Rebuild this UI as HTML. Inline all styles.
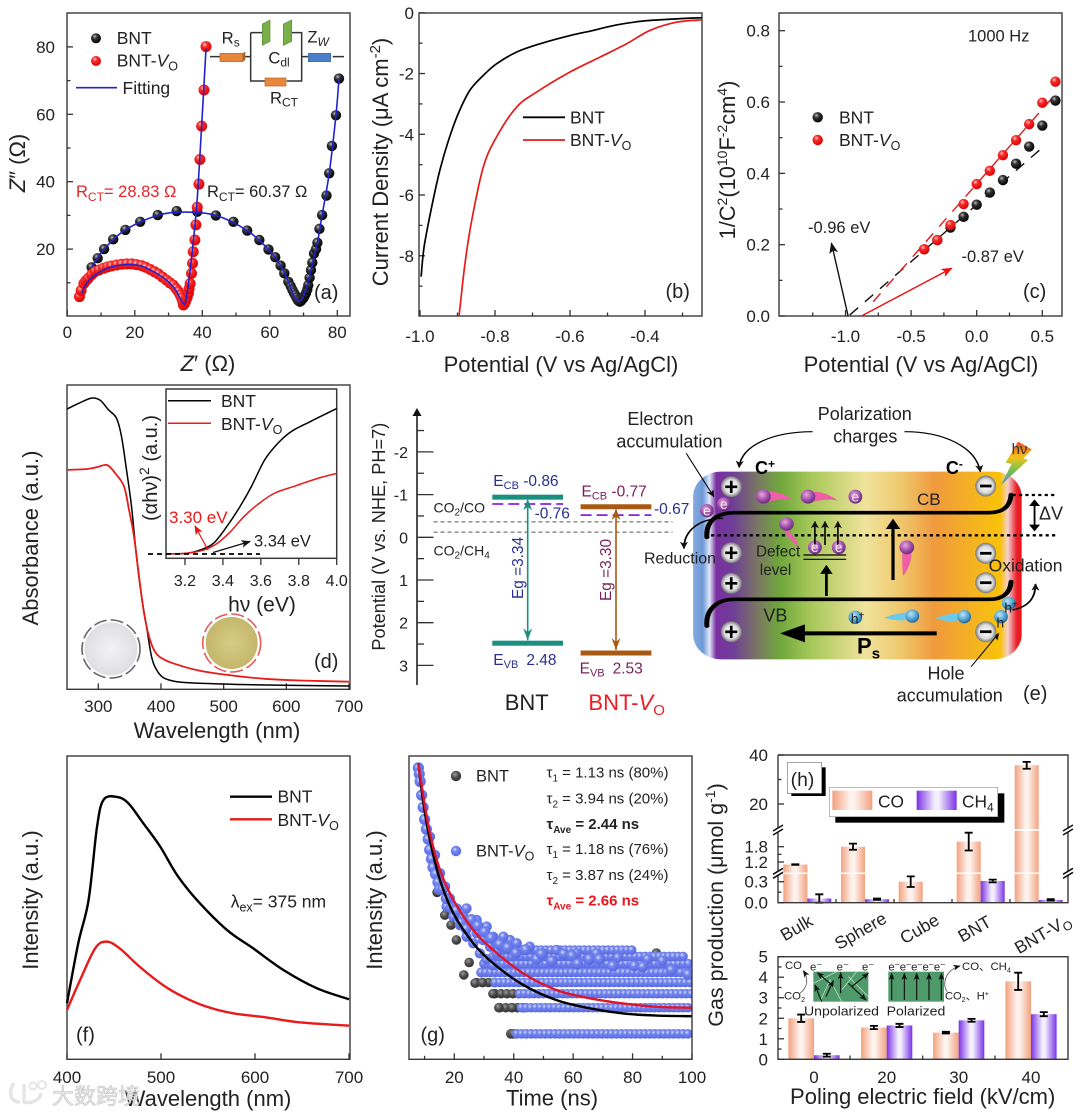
<!DOCTYPE html>
<html>
<head>
<meta charset="utf-8">
<title>BNT and BNT-VO characterisation figure</title>
<style>
html,body{margin:0;padding:0;background:#fff;}
svg{display:block;filter:blur(0.35px);}
text{font-family:"Liberation Sans","Noto Sans CJK SC",sans-serif;fill:#222;}
</style>
</head>
<body>
<svg id="figure" xmlns="http://www.w3.org/2000/svg" width="1080" height="1113" viewBox="0 0 1080 1113">
<defs>
<radialGradient id="ballBlack" cx="38%" cy="32%" r="70%"><stop offset="0" stop-color="#bbb"/><stop offset=".35" stop-color="#333"/><stop offset="1" stop-color="#000"/></radialGradient>
<radialGradient id="ballRed" cx="38%" cy="32%" r="70%"><stop offset="0" stop-color="#ffc0c0"/><stop offset=".35" stop-color="#f42a2a"/><stop offset="1" stop-color="#e00000"/></radialGradient>
<radialGradient id="ballBlue" cx="40%" cy="35%" r="65%"><stop offset="0" stop-color="#d8def8"/><stop offset=".35" stop-color="#7486ee"/><stop offset="1" stop-color="#5668e2"/></radialGradient>
<radialGradient id="ballGrey" cx="40%" cy="35%" r="70%"><stop offset="0" stop-color="#999"/><stop offset=".5" stop-color="#4c4c4c"/><stop offset="1" stop-color="#2e2e2e"/></radialGradient>
<linearGradient id="barCO"><stop offset="0" stop-color="#f3a17f"/><stop offset=".45" stop-color="#fdf3ee"/><stop offset=".55" stop-color="#fdf3ee"/><stop offset="1" stop-color="#f3a17f"/></linearGradient>
<linearGradient id="barCH4"><stop offset="0" stop-color="#7a32e6"/><stop offset=".45" stop-color="#f4effd"/><stop offset=".55" stop-color="#f4effd"/><stop offset="1" stop-color="#7a32e6"/></linearGradient>
<linearGradient id="bandGrad">
<stop offset="0" stop-color="#85a9de"/><stop offset=".03" stop-color="#6f9ad8"/><stop offset=".05" stop-color="#dfe8f7"/><stop offset=".07" stop-color="#7a2fa0"/><stop offset=".12" stop-color="#6f3d98"/><stop offset=".2" stop-color="#7a7a60"/><stop offset=".265" stop-color="#6fa83c"/><stop offset=".36" stop-color="#a8c85a"/><stop offset=".525" stop-color="#f0e39c"/><stop offset=".636" stop-color="#efc76c"/><stop offset=".734" stop-color="#f09a3e"/><stop offset=".874" stop-color="#f6b71c"/><stop offset=".935" stop-color="#f9c208"/><stop offset=".958" stop-color="#f4d0d0"/><stop offset=".985" stop-color="#ea2028"/><stop offset="1" stop-color="#e8141e"/>
</linearGradient>
<radialGradient id="chargeBall" cx="50%" cy="50%" r="55%"><stop offset="0" stop-color="#fff"/><stop offset=".6" stop-color="#ddd"/><stop offset="1" stop-color="#555"/></radialGradient>
<radialGradient id="electronBall" cx="40%" cy="35%" r="70%"><stop offset="0" stop-color="#e8a6dc"/><stop offset=".6" stop-color="#9b4aa6"/><stop offset="1" stop-color="#5a2a70"/></radialGradient>
<radialGradient id="holeBall" cx="40%" cy="35%" r="70%"><stop offset="0" stop-color="#bfe6f8"/><stop offset=".6" stop-color="#4aa0d0"/><stop offset="1" stop-color="#1e5a88"/></radialGradient>
<linearGradient id="boltGrad" x1="0" y1="0" x2="0" y2="1"><stop offset="0" stop-color="#e8461c"/><stop offset=".35" stop-color="#f6c21c"/><stop offset=".65" stop-color="#7fc04a"/><stop offset="1" stop-color="#4a90d8"/></linearGradient>
<radialGradient id="powderWhite"><stop offset="0" stop-color="#f3f3f5"/><stop offset="1" stop-color="#dfdfe3"/></radialGradient>
<radialGradient id="powderYellow"><stop offset="0" stop-color="#d8cc84"/><stop offset="1" stop-color="#c4b76c"/></radialGradient>
<marker id="arrowBlack" viewBox="0 0 10 10" refX="9" refY="5" markerWidth="8" markerHeight="8" orient="auto"><path d="M0 1 L10 5 L0 9 L2.5 5 Z" fill="#111"/></marker>
<marker id="arrowRed" viewBox="0 0 10 10" refX="9" refY="5" markerWidth="8" markerHeight="8" orient="auto"><path d="M0 1 L10 5 L0 9 L2.5 5 Z" fill="#e11"/></marker>
<marker id="arrowThick" viewBox="0 0 10 10" refX="8" refY="5" markerWidth="4.5" markerHeight="4.5" orient="auto"><path d="M0 0 L10 5 L0 10 Z" fill="#000"/></marker>
<marker id="arrowThin" markerUnits="userSpaceOnUse" viewBox="0 0 10 10" refX="9" refY="5" markerWidth="22" markerHeight="22" orient="auto"><path d="M0 1 L10 5 L0 9 L2.5 5 Z" fill="#111"/></marker>
<marker id="arrowTeal" viewBox="0 0 10 10" refX="9" refY="5" markerWidth="7" markerHeight="7" orient="auto"><path d="M0 1 L10 5 L0 9 L3 5 Z" fill="#1a8f80"/></marker>
<marker id="arrowBrown" viewBox="0 0 10 10" refX="9" refY="5" markerWidth="7" markerHeight="7" orient="auto"><path d="M0 1 L10 5 L0 9 L3 5 Z" fill="#a85a12"/></marker>
<clipPath id="clipG"><rect x="409" y="756" width="283" height="303"/></clipPath>
<clipPath id="clipB"><rect x="419" y="13" width="283" height="303"/></clipPath>
</defs>

<!-- Panel a -->
<g id="panel-a"></g>
<g font-size="17.5">
<text x="208" y="371" font-size="22" text-anchor="middle"><tspan font-style="italic">Z</tspan>′ (Ω)</text>
<text transform="translate(25,163) rotate(-90)" font-size="22" text-anchor="middle"><tspan font-style="italic">Z</tspan>″ (Ω)</text>
<text x="116.7" y="44">BNT</text>
<text x="116.7" y="66.7">BNT-<tspan font-style="italic">V</tspan><tspan font-size="12.5" dy="4">O</tspan></text>
<line x1="76" y1="87.7" x2="117" y2="87.7" stroke="#2222cc" stroke-width="1.6"/>
<text x="122.5" y="94">Fitting</text>
<text x="76" y="197" font-size="16.5" style="fill:#e8262a">R<tspan font-size="12" dy="4">CT</tspan><tspan dy="-4">= 28.83 Ω</tspan></text>
<text x="207" y="197" font-size="16.5">R<tspan font-size="12" dy="4">CT</tspan><tspan dy="-4">= 60.37 Ω</tspan></text>
<text x="314" y="299" font-size="20">(a)</text>
</g>
<g transform="scale(.33333)" stroke="#333" fill="none">
<path stroke-width="4.5" d="M630 170H660M735 170H752M752 98V243H795M860 243H905V98H875M790 98H752M905 170H925M998 170H1032"/>
<path d="M660 160H728V185H660Z" fill="#e8873c" stroke="#b86a2c" stroke-width="2"/>
<path d="M728 160L736 154V180L728 185Z" fill="#a8682c" stroke="none"/>
<path d="M787 72L810 60V124L787 136Z" fill="#7ab04a" stroke="#5a8a34" stroke-width="2"/>
<path d="M850 72L875 60V124L850 136Z" fill="#7ab04a" stroke="#5a8a34" stroke-width="2"/>
<path d="M795 234H858V258H795Z" fill="#e8873c" stroke="#b86a2c" stroke-width="2"/>
<path d="M925 160H992V185H925Z" fill="#4a80c8" stroke="#3a68a8" stroke-width="2"/>
<g stroke="none" font-size="50">
<text x="665" y="130">R<tspan font-size="36" dy="10">s</tspan></text>
<text x="805" y="190">C<tspan font-size="36" dy="10">dl</tspan></text>
<text x="922" y="128">Z<tspan font-size="36" dy="10" font-style="italic">W</tspan></text>
<text x="810" y="310">R<tspan font-size="36" dy="10">CT</tspan></text>
</g>
</g>

<!-- Panel b -->
<g id="panel-b"></g>
<g font-size="17.5">
<text x="561" y="372" font-size="22" text-anchor="middle">Potential (V vs Ag/AgCl)</text>
<text transform="translate(388,162) rotate(-90)" font-size="22" text-anchor="middle">Current Density (μA cm<tspan font-size="15" dy="-8">-2</tspan><tspan dy="8">)</tspan></text>
<line x1="523" y1="117.3" x2="565" y2="117.3" stroke="#000" stroke-width="1.8"/>
<line x1="523" y1="140" x2="565" y2="140" stroke="#e81a1a" stroke-width="1.8"/>
<text x="570" y="123.3">BNT</text>
<text x="570" y="146">BNT-<tspan font-style="italic">V</tspan><tspan font-size="12.5" dy="4">O</tspan></text>
<text x="665.5" y="298" font-size="20">(b)</text>
</g>

<!-- Panel c -->
<g id="panel-c"></g>
<g font-size="17.5">
<text x="921" y="372" font-size="22" text-anchor="middle">Potential (V vs Ag/AgCl)</text>
<text transform="translate(735,160) rotate(-90)" font-size="21.8" text-anchor="middle">1/C<tspan font-size="14" dy="-8">2</tspan><tspan dy="8">(10</tspan><tspan font-size="14" dy="-8">10</tspan><tspan dy="8">F</tspan><tspan font-size="14" dy="-8">-2</tspan><tspan dy="8">cm</tspan><tspan font-size="14" dy="-8">4</tspan><tspan dy="8">)</tspan></text>
<text x="839" y="123.3">BNT</text>
<text x="839" y="146">BNT-<tspan font-style="italic">V</tspan><tspan font-size="12.5" dy="4">O</tspan></text>
<text x="968" y="41.5" font-size="16.5">1000 Hz</text>
<text x="808" y="233" font-size="16.5">-0.96 eV</text>
<text x="961.5" y="262" font-size="16.5">-0.87 eV</text>
<text x="1023" y="298" font-size="20">(c)</text>
</g>

<!-- Panel d -->
<g id="panel-d"></g>
<g font-size="17.5">
<text x="217" y="738" font-size="22" text-anchor="middle">Wavelength (nm)</text>
<text transform="translate(38,538) rotate(-90)" font-size="22" text-anchor="middle">Absorbance (a.u.)</text>
<text x="262" y="611.7" font-size="21" text-anchor="middle">hν (eV)</text>
<text transform="translate(157,468) rotate(-90)" font-size="20" text-anchor="middle">(αhν)<tspan font-size="14" dy="-8">2</tspan><tspan dy="8"> (a.u.)</tspan></text>
<line x1="168" y1="400.7" x2="211" y2="400.7" stroke="#000" stroke-width="1.5"/>
<line x1="168" y1="423.3" x2="211" y2="423.3" stroke="#e81a1a" stroke-width="1.5"/>
<text x="221" y="407">BNT</text>
<text x="221" y="430">BNT-<tspan font-style="italic">V</tspan><tspan font-size="12.5" dy="4">O</tspan></text>
<line x1="148" y1="554" x2="260" y2="554" stroke="#000" stroke-width="1.8" stroke-dasharray="5 4"/>
<text x="169" y="523" font-size="17" style="fill:#e81a1a">3.30 eV</text>
<text x="254" y="546.7" font-size="16.5">3.34 eV</text>
<line x1="208" y1="550" x2="195" y2="526" stroke="#e11" stroke-width="1.2" marker-end="url(#arrowRed)"/>
<line x1="213" y1="552.5" x2="250" y2="541.5" stroke="#111" stroke-width="1.2" marker-end="url(#arrowBlack)"/>
<circle cx="111" cy="649" r="26.5" fill="url(#powderWhite)"/>
<circle cx="111" cy="649" r="29" fill="none" stroke="#666" stroke-width="1.6" stroke-dasharray="13 4"/>
<circle cx="231.7" cy="643" r="26" fill="url(#powderYellow)"/>
<circle cx="231.7" cy="643" r="29" fill="none" stroke="#e8585c" stroke-width="1.6" stroke-dasharray="13 4"/>
<text x="314" y="668" font-size="20">(d)</text>
</g>

<!-- Panel e -->
<g id="panel-e-axis"></g>
<g transform="translate(360,390) scale(.4595,.33333)">
<rect x="725" y="245" width="715" height="563" rx="60" ry="75" fill="url(#bandGrad)"/>
<path d="M755 442C752 395 775 368 815 368H1370C1398 368 1415 350 1417 314" fill="none" stroke="#000" stroke-width="11" stroke-linecap="round"/>
<path d="M755 708C752 660 775 628 815 628H1370C1398 628 1415 610 1417 575" fill="none" stroke="#000" stroke-width="11" stroke-linecap="round"/>
<path d="M750 436H1515M1420 315H1515" stroke="#000" stroke-width="7" stroke-dasharray="7 7" fill="none"/>
<line x1="1468" y1="332" x2="1468" y2="420" stroke="#000" stroke-width="4"/>
<path d="M1456 348L1468 328L1480 348ZM1456 404L1468 424L1480 404Z" fill="#000"/>
<g>
<path d="M890 305C915 305 930 318 942 330C920 325 905 330 890 335Z" fill="#ef5fa8"/>
<path d="M988 305C1010 305 1028 320 1040 332C1018 326 1005 330 988 335Z" fill="#ef5fa8"/>
<path d="M930 418C945 440 952 455 955 470C940 455 930 440 922 420Z" fill="#ef5fa8"/>
<path d="M1180 490C1180 515 1180 535 1182 558C1195 535 1200 510 1200 490Z" fill="#ef5fa8"/>
<ellipse cx="878" cy="320" rx="16" ry="21" fill="url(#electronBall)"/>
<ellipse cx="975" cy="320" rx="16" ry="21" fill="url(#electronBall)"/>
<ellipse cx="1078" cy="320" rx="15" ry="21" fill="url(#electronBall)"/>
<ellipse cx="928" cy="402" rx="16" ry="20" fill="url(#electronBall)"/>
<ellipse cx="990" cy="472" rx="15" ry="21" fill="url(#electronBall)"/>
<ellipse cx="1042" cy="472" rx="15" ry="21" fill="url(#electronBall)"/>
<ellipse cx="1190" cy="472" rx="16" ry="21" fill="url(#electronBall)"/>
<ellipse cx="755" cy="362" rx="15" ry="20" fill="url(#electronBall)"/>
<ellipse cx="792" cy="342" rx="15" ry="20" fill="url(#electronBall)"/>
</g>
<g>
<path d="M1190 668C1170 668 1155 678 1140 682C1158 690 1172 694 1190 690Z" fill="#6ec8ea"/>
<path d="M1302 668C1282 670 1265 680 1250 684C1268 692 1285 696 1302 692Z" fill="#6ec8ea"/>
<ellipse cx="1078" cy="682" rx="15" ry="20" fill="url(#holeBall)"/>
<ellipse cx="1202" cy="678" rx="15" ry="20" fill="url(#holeBall)"/>
<ellipse cx="1315" cy="680" rx="15" ry="20" fill="url(#holeBall)"/>
<ellipse cx="1395" cy="680" rx="15" ry="20" fill="url(#holeBall)"/>
<ellipse cx="1412" cy="640" rx="15" ry="20" fill="url(#holeBall)"/>
</g>
<g fill="none" stroke="#000">
<line x1="1160" y1="570" x2="1160" y2="392" stroke-width="7" marker-end="url(#arrowThick)"/>
<line x1="1015" y1="618" x2="1015" y2="530" stroke-width="6" marker-end="url(#arrowThick)"/>
<line x1="990" y1="465" x2="990" y2="395" stroke-width="3.5" marker-end="url(#arrowThin)"/>
<line x1="1012" y1="465" x2="1012" y2="395" stroke-width="3.5" marker-end="url(#arrowThin)"/>
<line x1="1040" y1="465" x2="1040" y2="395" stroke-width="3.5" marker-end="url(#arrowThin)"/>
<path d="M965 495H1058M965 508H1058" stroke-width="3.5"/>
<line x1="1255" y1="730" x2="925" y2="730" stroke-width="12" marker-end="url(#arrowThick)"/>
<path d="M985 125C900 125 830 165 825 232" stroke-width="3.5" marker-end="url(#arrowThin)"/>
<path d="M1185 125C1270 125 1340 170 1350 245" stroke-width="3.5" marker-end="url(#arrowThin)"/>
<line x1="710" y1="190" x2="770" y2="320" stroke-width="2.5" marker-end="url(#arrowThin)"/>
<line x1="1330" y1="830" x2="1390" y2="730" stroke-width="2.5" marker-end="url(#arrowThin)"/>
<path d="M790 385C740 385 705 420 705 475" stroke-width="4" marker-end="url(#arrowThin)"/>
<path d="M1420 660C1455 650 1470 625 1470 582" stroke-width="4" marker-end="url(#arrowThin)"/>
</g>
<polygon points="1432,155 1462,178 1444,205 1454,210 1395,285 1418,222 1405,218" fill="url(#boltGrad)"/>
</g>
<g font-size="24" font-weight="bold" text-anchor="middle">
<circle cx="731.3" cy="486.7" r="10.5" fill="url(#chargeBall)"/><text x="731.3" y="495" style="fill:#000">+</text>
<circle cx="731.3" cy="552.7" r="10.5" fill="url(#chargeBall)"/><text x="731.3" y="561" style="fill:#000">+</text>
<circle cx="731.3" cy="583.3" r="10.5" fill="url(#chargeBall)"/><text x="731.3" y="591.6" style="fill:#000">+</text>
<circle cx="731.3" cy="631.7" r="10.5" fill="url(#chargeBall)"/><text x="731.3" y="640" style="fill:#000">+</text>
<circle cx="985.8" cy="486" r="10.5" fill="url(#chargeBall)"/><rect x="980" y="484.6" width="11.5" height="2.8" fill="#000"/>
<circle cx="985.8" cy="553.3" r="10.5" fill="url(#chargeBall)"/><rect x="980" y="551.9" width="11.5" height="2.8" fill="#000"/>
<circle cx="985.8" cy="582.7" r="10.5" fill="url(#chargeBall)"/><rect x="980" y="581.3" width="11.5" height="2.8" fill="#000"/>
<circle cx="985.8" cy="631.7" r="10.5" fill="url(#chargeBall)"/><rect x="980" y="630.3" width="11.5" height="2.8" fill="#000"/>
</g>
<g font-size="18">
<text transform="translate(385,536.7) rotate(-90)" font-size="18.2" text-anchor="middle">Potential (V vs. NHE, PH=7)</text>
<text x="493.3" y="486" font-size="15.5" style="fill:#2a2f8f">E<tspan font-size="11" dy="3" style="fill:#2a2f8f">CB</tspan><tspan dy="-3" style="fill:#2a2f8f">  -0.86</tspan></text>
<text x="534.6" y="518.3" font-size="15.5" style="fill:#2a2f8f">-0.76</text>
<text x="493.3" y="665" font-size="15.5" style="fill:#2a2f8f">E<tspan font-size="11" dy="3" style="fill:#2a2f8f">VB</tspan><tspan dx="8" dy="-3" style="fill:#2a2f8f">2.48</tspan></text>
<text x="654" y="514" font-size="15.5" style="fill:#2a2f8f">-0.67</text>
<text x="581.5" y="496.7" font-size="15.5" style="fill:#7a1f5a">E<tspan font-size="11" dy="3" style="fill:#7a1f5a">CB</tspan><tspan dy="-3" style="fill:#7a1f5a">  -0.77</tspan></text>
<text x="579.6" y="673.3" font-size="15.5" style="fill:#7a1f5a">E<tspan font-size="11" dy="3" style="fill:#7a1f5a">VB</tspan><tspan dx="8" dy="-3" style="fill:#7a1f5a">2.53</tspan></text>
<text x="433.5" y="512.7" font-size="14">CO<tspan font-size="10" dy="3">2</tspan><tspan dy="-3">/CO</tspan></text>
<text x="433.5" y="555.7" font-size="14">CO<tspan font-size="10" dy="3">2</tspan><tspan dy="-3">/CH</tspan><tspan font-size="10" dy="3">4</tspan></text>
<text transform="translate(523,568) rotate(-90)" font-size="15.4" text-anchor="middle" style="fill:#2a2f8f">Eg =3.34</text>
<text transform="translate(611,570) rotate(-90)" font-size="15.4" text-anchor="middle" style="fill:#7a1f5a">Eg =3.30</text>
<text x="504.7" y="710" font-size="22">BNT</text>
<text x="588.4" y="710" font-size="22" style="fill:#ee1c24">BNT-<tspan font-style="italic" style="fill:#ee1c24">V</tspan><tspan font-size="15" dy="5" style="fill:#ee1c24">O</tspan></text>
<text x="627.4" y="425">Electron</text>
<text x="616.4" y="447.3">accumulation</text>
<text x="817.7" y="420">Polarization</text>
<text x="833.3" y="442.7">charges</text>
<text x="644" y="563.3" font-size="16">Reduction</text>
<text x="988.6" y="571.7" font-size="17.5">Oxidation</text>
<text x="927.5" y="679.3">Hole</text>
<text x="896.7" y="701.7">accumulation</text>
<text x="917" y="505" font-size="17">CB</text>
<text x="763.4" y="621.7">VB</text>
<text x="1011.6" y="454" font-size="15" style="fill:#333">hν</text>
<text x="1023" y="700" font-size="20">(e)</text>
<text x="756" y="556.7" font-size="15.3">Defect</text>
<text x="759.8" y="575" font-size="15.3">level</text>
<text x="755" y="474" font-weight="bold" style="fill:#000">C<tspan font-size="12" dy="-6" style="fill:#000">+</tspan></text>
<text x="945.9" y="474" font-weight="bold" style="fill:#000">C<tspan font-size="12" dy="-6" style="fill:#000">-</tspan></text>
<text x="857" y="653.3" font-size="22" font-weight="bold" style="fill:#000">P<tspan font-size="15" dy="5" style="fill:#000">s</tspan></text>
<text x="1039" y="519.3">ΔV</text>
<g font-size="14" text-anchor="middle">
<text x="855.3" y="501.5" style="fill:#eee">e</text>
<text x="814.9" y="552" style="fill:#eee">e</text>
<text x="838.8" y="552" style="fill:#eee">e</text>
<text x="706.9" y="515.5" style="fill:#eee">e</text>
<text x="723.9" y="509" style="fill:#eee">e</text>
</g>
<g font-size="14">
<text x="850.7" y="623.3">h<tspan font-size="10" dy="-5">+</tspan></text>
<text x="996.4" y="627.3">h</text>
<text x="1004.2" y="612.7">h<tspan font-size="10" dy="-5">+</tspan></text>
</g>
</g>

<!-- Panel f -->
<g id="panel-f"></g>
<g font-size="17.5">
<text x="208" y="1106" font-size="22" text-anchor="middle">Wavelength (nm)</text>
<text transform="translate(38,900) rotate(-90)" font-size="22" text-anchor="middle">Intensity (a.u.)</text>
<line x1="230" y1="796.7" x2="272" y2="796.7" stroke="#000" stroke-width="2.4"/>
<line x1="230" y1="819.3" x2="272" y2="819.3" stroke="#e81a1a" stroke-width="2.4"/>
<text x="277.5" y="802.7">BNT</text>
<text x="277.5" y="826">BNT-<tspan font-style="italic">V</tspan><tspan font-size="12.5" dy="4">O</tspan></text>
<text x="230.7" y="907.7">λ<tspan font-size="12.5" dy="4">ex</tspan><tspan dy="-4">= 375 nm</tspan></text>
<text x="76" y="1041.7" font-size="20">(f)</text>
</g>

<!-- Panel g -->
<g id="panel-g"></g>
<g font-size="17.5">
<text x="552" y="1105.7" font-size="22" text-anchor="middle">Time (ns)</text>
<text transform="translate(382,900) rotate(-90)" font-size="22" text-anchor="middle">Intensity (a.u.)</text>
<text x="476" y="781.5" font-size="16.5">BNT</text>
<text x="476" y="856.5" font-size="16.5">BNT-<tspan font-style="italic">V</tspan><tspan font-size="12.5" dy="4">O</tspan></text>
<g font-size="15">
<text x="546.5" y="777.5">τ<tspan font-size="10" dy="4">1</tspan><tspan dy="-4"> =  1.13 ns (80%)</tspan></text>
<text x="546.5" y="803.5">τ<tspan font-size="10" dy="4">2</tspan><tspan dy="-4"> = 3.94 ns  (20%)</tspan></text>
<text x="546.5" y="829" font-weight="bold">τ<tspan font-size="10" dy="4">Ave</tspan><tspan dy="-4"> = 2.44 ns</tspan></text>
<text x="546.5" y="854">τ<tspan font-size="10" dy="4">1</tspan><tspan dy="-4"> = 1.18 ns (76%)</tspan></text>
<text x="546.5" y="880">τ<tspan font-size="10" dy="4">2</tspan><tspan dy="-4"> = 3.87 ns (24%)</tspan></text>
<text x="546.5" y="905.5" font-weight="bold" style="fill:#e8161c">τ<tspan font-size="10" dy="4" style="fill:#e8161c">Ave</tspan><tspan dy="-4" style="fill:#e8161c"> = 2.66 ns</tspan></text>
</g>
<text x="420.5" y="1041.5" font-size="20">(g)</text>
</g>

<!-- Panel h -->
<g id="panel-h"></g>
<g font-size="17.5">
<text transform="translate(723,905) rotate(-90)" font-size="21.5" text-anchor="middle">Gas production (μmol g<tspan font-size="14" dy="-8">-1</tspan><tspan dy="8">)</tspan></text>
<text x="922.7" y="1104" font-size="22" text-anchor="middle">Poling electric field (kV/cm)</text>
</g>
<g transform="translate(700,730) scale(.33333)">
<rect x="274" y="112" width="103" height="86" fill="#000"/>
<rect x="262" y="98" width="103" height="92" fill="#fff" stroke="#777" stroke-width="2"/>
<text x="272" y="168" font-size="58">(h)</text>
<rect x="406" y="190" width="507" height="88" fill="#000"/>
<rect x="388" y="172" width="505" height="88" fill="#fff" stroke="#999" stroke-width="2"/>
<rect x="397" y="182" width="120" height="58" fill="url(#barCO)"/>
<rect x="650" y="182" width="120" height="58" fill="url(#barCH4)"/>
<text x="534" y="232" font-size="52">CO</text>
<text x="786" y="232" font-size="52">CH<tspan font-size="36" dy="12">4</tspan></text>
<rect x="340" y="725" width="165" height="90" fill="#4f9a6a"/>
<rect x="565" y="725" width="167" height="90" fill="#4f9a6a"/>
<path d="M340 760L410 725M360 815L390 750L425 815M425 780L470 725M445 740L505 800" stroke="#cfe8d6" stroke-width="2" fill="none"/>
<g stroke="#111" stroke-width="3.5" fill="none">
<line x1="390" y1="760" x2="352" y2="728" marker-end="url(#arrowThin)"/>
<line x1="365" y1="815" x2="345" y2="765" marker-end="url(#arrowThin)"/>
<line x1="378" y1="800" x2="400" y2="752" marker-end="url(#arrowThin)"/>
<line x1="422" y1="790" x2="422" y2="728" marker-end="url(#arrowThin)"/>
<line x1="455" y1="770" x2="505" y2="730" marker-end="url(#arrowThin)"/>
<line x1="445" y1="760" x2="498" y2="810" marker-end="url(#arrowThin)"/>
<line x1="575" y1="810" x2="575" y2="730" marker-end="url(#arrowThin)"/>
<line x1="613" y1="810" x2="613" y2="730" marker-end="url(#arrowThin)"/>
<line x1="650" y1="810" x2="650" y2="730" marker-end="url(#arrowThin)"/>
<line x1="687" y1="810" x2="687" y2="730" marker-end="url(#arrowThin)"/>
<line x1="724" y1="810" x2="724" y2="730" marker-end="url(#arrowThin)"/>
<path d="M300 790C325 770 325 745 310 722" stroke-width="2.5" stroke="#555" marker-end="url(#arrowThin)"/>
<path d="M742 785C725 765 735 720 780 708" stroke-width="2.5" stroke="#555" marker-end="url(#arrowThin)"/>
</g>
<g font-size="34" style="fill:#333">
<text x="255" y="717">CO</text>
<text x="252" y="808">CO<tspan font-size="22" dy="8">2</tspan></text>
<text x="312" y="856" font-size="40" textLength="225" lengthAdjust="spacingAndGlyphs">Unpolarized</text>
<text x="560" y="856" font-size="40" textLength="176" lengthAdjust="spacingAndGlyphs">Polarized</text>
<text x="786" y="720" textLength="147" lengthAdjust="spacingAndGlyphs">CO、CH<tspan font-size="22" dy="8">4</tspan></text>
<text x="735" y="808" textLength="132" lengthAdjust="spacingAndGlyphs">CO<tspan font-size="22" dy="8">2</tspan><tspan dy="-8">、H</tspan><tspan font-size="22" dy="-10">+</tspan></text>
<text x="330" y="722">e⁻</text>
<text x="410" y="722">e⁻</text>
<text x="486" y="722">e⁻</text>
<text x="565" y="722" textLength="172">e⁻e⁻e⁻e⁻e⁻</text>
</g>
</g>

<!-- Watermark -->
<g opacity=".95">
<path d="M14 1083C8 1092 10 1102 20 1102M24 1084V1102C32 1104 40 1100 41 1093" fill="none" stroke="#e4e4e4" stroke-width="3.5"/>
<circle cx="33" cy="1086" r="3.5" fill="none" stroke="#e4e4e4" stroke-width="2"/>
<circle cx="42" cy="1085" r="4" fill="none" stroke="#e4e4e4" stroke-width="2"/>
<text x="52" y="1104" font-size="22" style="fill:#e6e6e6;stroke:#bbb;stroke-width:.5" textLength="88">大数跨境</text>
</g>
</svg>

<script>
/* ---------- chart data ---------- */
const nyquistBntX=[7.2,9.0,10.9,13.6,17.2,21.6,26.8,32.4,38.5,44,49.2,53.3,56.9,59.6,61.6,63.2,64.3,65.5,66.2,66.7,67.1,67.5,67.9,68.3,68.6,68.9,69.3,69.9,70.3,70.7,71.1,71.4,71.8,72.2,72.6,73.1,73.7,74.1,74.7,75.5,76.8,77.6,78.4,79.6,80.5];
const nyquistBntY=[14.6,17.3,20,22.9,25.7,28.1,30.1,31.3,31.1,30,28.1,25.5,22.7,19.9,17.6,15.1,12.8,10.3,9,7.9,7.1,6.4,5.6,4.9,4.6,4.4,4.7,5.4,6.1,6.9,8,9.3,11.5,13.8,16,18.7,20,21.9,26,30.1,35.9,42.5,50.6,59.7,70.6];
const nyquistRedX=[3.6,4.1,4.9,5.5,6.2,7.2,8.2,9.4,10.7,11.9,13.1,14.6,16.1,17.6,19.1,20.5,22,23.2,24.5,25.8,27,28.2,29.4,30.4,31.4,32.2,32.9,33.5,33.9,34.2,34.4,34.7,35,35.5,35.9,36.1,36.4,36.8,37.1,37.3,37.8,38.1,38.5,39,39.3,39.8,40.5,41.1];
const nyquistRedY=[5.9,7.7,9.8,10.6,11.3,12.4,13.3,13.8,14.3,14.7,15,15.3,15.5,15.6,15.6,15.4,15.1,14.6,14,13.3,12.6,11.7,10.8,10,9.3,8.3,7.4,6.3,5.4,4.4,3.4,3.8,4.4,5.6,6.9,8.3,9.8,12.8,15.8,19.2,22.7,27.2,32.4,39.3,46.6,56.5,67.2,80.1];
const fitBntX=[7.2,10.9,17.2,26.8,35,44,53.3,59.6,63.2,65.5,67,68.3,69.5,70.7,72.2,74.1,75.5,77.6,79.6,80.5];
const fitBntY=[14.6,20,25.7,30,31,30,25.5,19.9,15.1,10.3,6.5,4.6,5.2,8,13.8,21.9,30.1,42.5,59.7,70.6];
const fitRedX=[4.3,6.2,10.7,16.1,21,25,29.4,32,33.5,34.4,35,35.9,37.1,38.5,40,41.1];
const fitRedY=[6.9,10.5,13.8,15.3,15.2,13.6,10.8,8,5.2,3.9,4.2,9.8,20,35,60,79.5];

const lsvBntV=[-0.997,-0.989,-0.969,-0.947,-0.924,-0.898,-0.867,-0.831,-0.796,-0.742,-0.68,-0.6,-0.538,-0.476,-0.404,-0.316,-0.247];
const lsvBntJ=[-8.69,-7.7,-6.4,-5.18,-4.2,-3.32,-2.55,-2.06,-1.68,-1.29,-1.02,-0.75,-0.58,-0.4,-0.27,-0.2,-0.16];
const lsvRedV=[-0.896,-0.88,-0.862,-0.831,-0.796,-0.742,-0.689,-0.6,-0.52,-0.449,-0.387,-0.316,-0.247];
const lsvRedJ=[-10,-8.25,-6.83,-5.07,-4.09,-3.1,-2.61,-1.95,-1.46,-1.02,-0.58,-0.31,-0.23];

const msPotential=[-0.4,-0.3,-0.2,-0.1,0,0.1,0.2,0.3,0.4,0.5,0.6];
const msBnt=[0.187,0.213,0.248,0.278,0.312,0.346,0.381,0.427,0.475,0.534,0.604];
const msRed=[0.187,0.213,0.255,0.314,0.37,0.407,0.451,0.493,0.538,0.598,0.657];

const absBntW=[250,268,289,303,316,329,337,345,353,361,369,377,385,393,404,420,441,489,568,700];
const absBntA=[92.1,93.9,95.7,95,91.9,89.1,83.1,72.1,60.1,43.6,30.5,20.6,10.7,6.4,3.8,2.7,2.2,1.8,1.4,1.1];
const absRedW=[250,282,298,314,327,341,349,357,365,373,381,389,399,420,462,515,568,622,700];
const absRedA=[72.1,72.4,73,73.7,71,66.7,59,50.2,37.1,25,17.3,12.9,10.5,8.5,6.1,4.5,3.4,2.9,2.5];
const taucBntE=[3.10,3.21,3.28,3.35,3.42,3.49,3.55,3.62,3.69,3.76,3.86,4.0];
const taucBntV=[0,0.5,2.8,7.4,19,32.9,46.8,65.3,76.9,85,91.9,101];
const taucRedE=[3.10,3.21,3.30,3.37,3.44,3.51,3.58,3.67,3.78,3.90,4.0];
const taucRedV=[0,0.5,2.8,7.4,15.5,25.9,34,42.1,47.2,52.5,56];

const levelNames=['BNT','BNT-VO'];
const levelCB=[-0.94,-0.715];
const levelAO=[-0.78,-0.52];
const levelVB=[2.48,2.71];
const redoxLevels=[-0.36,-0.12];
const potentialTicks=[-2,-1,0,1,2,3];

const plBntW=[400,412,423,432,439,453,465,481,499,517,538,570,598,630,666,700];
const plBntI=[18.5,38.3,52.6,76.8,85.6,86.5,84.5,77.9,70.2,60.8,52.6,42.7,36.6,29.5,23.4,19.8];
const plRedW=[400,414,430,442,456,477,502,523,548,576,612,647,700];
const plRedI=[16.3,26.2,36.6,38.8,36.6,30.6,24.5,20.7,17.4,15.2,13.8,12.2,11.1];

const decayFitRedT=[7.9,9.6,11.8,15.2,19.7,26.4,33.1,43.2,54.4,65.6,76.8,88,100];
const decayFitRedI=[97.5,86.5,74.4,62.3,52.5,42.6,36,28.3,22.8,20.1,18.4,17.3,17];
const decayFitBntT=[7.9,9.6,11.8,15.2,19.7,26.4,33.1,43.2,54.4,65.6,76.8,88,100];
const decayFitBntI=[97.5,84.3,72.2,59,48.1,38.2,31.6,24.5,19.5,16.8,15.1,14.4,14.2];
const photonLevels=[8.4,17,21.6,25.3,28.6,31.5,33.9,36];
const blueRowStart=[41,42.6,42,33.7,29,30,33,36.5];
const blueRowEnd=[100,100,100,100,100,100,98,80];
const blackRowStart=[39,35.3,33.7,27.5,29,30,33,40];
const blueBandT=[7.9,8.2,8.5,9,9.5,10,10.6,11.2,11.7,12.3,12.8,13.7,14.5,15,16.1,17.3,18.9,20.6,22.3,24,25.7,27.9,30.2,32.4,35.2,37.9,40.7,44,47.7,49.3,52.8,56.8,59.6,61.5,65.4,68.8,73.3,80.6,83.4,93,98.6];
const blueBandI=[96,94,91.5,87,83,79,75.8,72.5,69,66,63.2,61,58.3,56,56,53,50,49,45,43,46,44,42,40,37.9,36.8,35,36.1,33,34.7,32.4,34.7,34.1,31.5,33,33,30.8,30.8,30.5,29.4,28];
const blueFillT=[11.8,13.5,15.2,16.9,18.5,20.8,23,25.3,27.5,29.7,32,34.2,36.5,38.7,24.1,27.5,30.9,33.1,36.5,41,45.4,49.9,54.4,61.1,67.8,17.4,19.7,21.9,24.1,26.4,28.6,30.8,33,75,85,90];
const blueFillI=[73.3,67.3,61.3,56.9,53,49.7,47,44.2,41.5,39.3,37.1,34.9,37.1,39.3,49.7,45.9,43.7,40.4,40.4,38.2,37.1,34.9,36,34.9,34.9,50.3,47,44.2,40.4,38.2,34.9,33,31,33.5,33,32.5];
const blackExtraT=[14.2,16.8,18.9,20.7,23.2,25,27,29.5,33,35,39.5,39.8,88,76,63];
const blackExtraI=[55,47.5,44.2,39.3,27.8,31.9,25.1,25.3,21.6,17,17,8.4,35,34.4,33.8];

const surveyCategories=['Bulk','Sphere','Cube','BNT','BNT-V'];
const surveyCO=[1.1,1.8,0.3,2.0,35.8];
const surveyCH4=[0.06,0.05,0.005,0.31,0.04];
const surveyCOErr=[0.01,0.12,0.076,0.35,1.4];
const surveyCH4Err=[0.06,0.01,0,0.02,0.01];
const fieldCategories=['0','20','30','40'];
const fieldCO=[2.0,1.55,1.3,3.8];
const fieldCH4=[0.2,1.65,1.9,2.2];
const fieldCOErr=[0.18,0.08,0.04,0.42];
const fieldCH4Err=[0.07,0.08,0.07,0.1];

/* ---------- helpers ---------- */
const NS='http://www.w3.org/2000/svg';
function node(parent,tag,name,attrs){
  const el=document.createElementNS(NS,tag);
  
  
  for(const k in attrs){el.setAttribute(k,attrs[k]);}
  parent.appendChild(el);
  return el;
}
function linear(d0,d1,r0,r1){return v=>r0+(v-d0)*(r1-r0)/(d1-d0);}
function smoothPath(pts){
  let d='M'+pts[0][0].toFixed(2)+' '+pts[0][1].toFixed(2);
  for(let i=0;i<pts.length-1;i++){
    const p0=pts[Math.max(i-1,0)],p1=pts[i],p2=pts[i+1],p3=pts[Math.min(i+2,pts.length-1)];
    const c1=[p1[0]+(p2[0]-p0[0])/6,p1[1]+(p2[1]-p0[1])/6],c2=[p2[0]-(p3[0]-p1[0])/6,p2[1]-(p3[1]-p1[1])/6];
    d+='C'+c1[0].toFixed(2)+' '+c1[1].toFixed(2)+' '+c2[0].toFixed(2)+' '+c2[1].toFixed(2)+' '+p2[0].toFixed(2)+' '+p2[1].toFixed(2);
  }
  return d;
}
function curve(parent,name,xs,ys,sx,sy,color,width,clip){
  const pts=xs.map((x,i)=>[sx(x),sy(ys[i])]);
  const attrs={d:smoothPath(pts),fill:'none',stroke:color,'stroke-width':width,'stroke-linejoin':'round'};
  if(clip){attrs['clip-path']='url(#'+clip+')';}
  return node(parent,'path',name,attrs);
}
function balls(parent,name,xs,ys,sx,sy,grad,r){
  xs.forEach((x,i)=>{node(parent,'circle',name,{cx:sx(x),cy:sy(ys[i]),r:r,fill:'url(#'+grad+')'});});
}
function frame(parent,name,x0,y0,x1,y1,w){
  node(parent,'rect',name,{x:x0,y:y0,width:x1-x0,height:y1-y0,fill:'none',stroke:'#3a3a3a','stroke-width':w||1.4});
}
function tick(parent,name,x1,y1,x2,y2){
  node(parent,'line',name,{x1:x1,y1:y1,x2:x2,y2:y2,stroke:'#333','stroke-width':1.3});
}
function label(parent,name,x,y,txt,anchor,size){
  const t=node(parent,'text',name,{x:x,y:y,'text-anchor':anchor,'font-size':size||17});
  t.textContent=txt;
  return t;
}
function xAxis(parent,sx,bottom,majors,minors,baseline,fmt){
  majors.forEach(v=>{tick(parent,'x-tick',sx(v),bottom,sx(v),bottom-6);label(parent,'x-tick-label',sx(v),baseline,fmt(v),'middle');});
  minors.forEach(v=>{tick(parent,'x-minor-tick',sx(v),bottom,sx(v),bottom-3.5);});
}
function yAxis(parent,sy,left,majors,minors,right,fmt){
  majors.forEach(v=>{tick(parent,'y-tick',left,sy(v),left+6,sy(v));label(parent,'y-tick-label',right,sy(v)+6,fmt(v),'end');});
  minors.forEach(v=>{tick(parent,'y-minor-tick',left,sy(v),left+3.5,sy(v));});
}

/* ---------- panel a ---------- */
(function(){
  const g=document.getElementById('panel-a');
  const sx=linear(0,80,67.3,337.3),sy=linear(0,80,316.5,46.9);
  frame(g,'plot-frame-a',67,13,350,316);
  xAxis(g,sx,316,[0,20,40,60,80],[10,30,50,70],338,v=>String(v));
  yAxis(g,sy,67,[20,40,60,80],[10,30,50,70],55,v=>String(v));
  balls(g,'bnt-point',nyquistBntX,nyquistBntY,sx,sy,'ballBlack',5.2);
  balls(g,'bnt-vo-point',nyquistRedX,nyquistRedY,sx,sy,'ballRed',5.5);
  curve(g,'fit-bnt',fitBntX,fitBntY,sx,sy,'#2222cc',1.6);
  curve(g,'fit-bnt-vo',fitRedX,fitRedY,sx,sy,'#2222cc',1.6);
  node(g,'circle','legend-ball-bnt',{cx:96,cy:38.3,r:5,fill:'url(#ballBlack)'});
  node(g,'circle','legend-ball-bnt-vo',{cx:96,cy:61,r:5,fill:'url(#ballRed)'});
})();

/* ---------- panel b ---------- */
(function(){
  const g=document.getElementById('panel-b');
  const sx=linear(-1,-0.4,420,645),sy=linear(0,-10,12.8,316.5);
  frame(g,'plot-frame-b',419,13,702,316);
  xAxis(g,sx,316,[-1,-0.8,-0.6,-0.4],[-0.9,-0.7,-0.5,-0.3],342,v=>v.toFixed(1));
  yAxis(g,sy,419,[0,-2,-4,-6,-8],[-1,-3,-5,-7,-9],414,v=>String(v));
  curve(g,'lsv-bnt',lsvBntV,lsvBntJ,sx,sy,'#000',1.7,'clipB');
  curve(g,'lsv-bnt-vo',lsvRedV,lsvRedJ,sx,sy,'#e81a1a',1.7,'clipB');
})();

/* ---------- panel c ---------- */
(function(){
  const g=document.getElementById('panel-c');
  const sx=linear(0,0.5,976.7,1042.3),sy=linear(0,0.8,316,30.7);
  frame(g,'plot-frame-c',779,13,1062,316);
  xAxis(g,sx,316,[-1,-0.5,0,0.5],[-1.25,-0.75,-0.25,0.25],342,v=>v.toFixed(1));
  yAxis(g,sy,779,[0,0.2,0.4,0.6,0.8],[0.1,0.3,0.5,0.7],770,v=>v.toFixed(1));
  node(g,'line','tangent-bnt',{x1:sx(-0.967),y1:sy(0.003),x2:sx(0.522),y2:sy(0.479),stroke:'#111','stroke-width':1.4,'stroke-dasharray':'11 9'});
  node(g,'line','tangent-bnt-vo',{x1:sx(-0.789),y1:sy(0.04),x2:sx(0.598),y2:sy(0.621),stroke:'#e01a1a','stroke-width':1.4,'stroke-dasharray':'11 9'});
  node(g,'line','flatband-arrow-bnt',{x1:sx(-0.98),y1:sy(0),x2:sx(-1.107),y2:sy(0.204),stroke:'#111','stroke-width':1.4,'marker-end':'url(#arrowBlack)'});
  node(g,'line','flatband-arrow-bnt-vo',{x1:sx(-0.878),y1:sy(0),x2:sx(-0.191),y2:sy(0.134),stroke:'#e11','stroke-width':1.4,'marker-end':'url(#arrowRed)'});
  balls(g,'bnt-point',msPotential,msBnt,sx,sy,'ballBlack',5.2);
  balls(g,'bnt-vo-point',msPotential,msRed,sx,sy,'ballRed',5.2);
  node(g,'circle','legend-ball-bnt',{cx:817.7,cy:117.3,r:5.2,fill:'url(#ballBlack)'});
  node(g,'circle','legend-ball-bnt-vo',{cx:817.7,cy:140,r:5.2,fill:'url(#ballRed)'});
})();

/* ---------- panel d ---------- */
(function(){
  const g=document.getElementById('panel-d');
  const sx=linear(300,700,98.3,349),sy=linear(0,100,689.3,385);
  frame(g,'plot-frame-d',67,385,350,689.3);
  xAxis(g,sx,689.3,[300,400,500,600,700],[],712,v=>String(v));
  curve(g,'absorbance-bnt',absBntW,absBntA,sx,sy,'#000',1.5);
  curve(g,'absorbance-bnt-vo',absRedW,absRedA,sx,sy,'#e81a1a',1.8);
  const ix=linear(3.1,4.0,166,336.7),iy=linear(0,100,554,410);
  node(g,'rect','inset-background',{x:166,y:389,width:170.7,height:169.3,fill:'#fff'});
  frame(g,'inset-frame',166,389,336.7,558.3,1.5);
  [3.2,3.4,3.6,3.8,4.0].forEach(v=>{
    tick(g,'inset-x-tick',ix(v),558.3,ix(v),565);
    label(g,'inset-x-tick-label',ix(v),586,v.toFixed(1),'middle',16);
  });
  curve(g,'tauc-bnt',taucBntE,taucBntV,ix,iy,'#000',1.5);
  curve(g,'tauc-bnt-vo',taucRedE,taucRedV,ix,iy,'#e81a1a',1.5);
})();

/* ---------- panel e energy levels ---------- */
(function(){
  const g=document.getElementById('panel-e-axis');
  const sy=linear(0,1,537.3,580);
  node(g,'line','potential-axis',{x1:417,y1:414,x2:417,y2:685,stroke:'#222','stroke-width':1.6});
  node(g,'path','potential-axis-head',{d:'M412.5 416L417 408L421.5 416Z',fill:'#111'});
  potentialTicks.forEach(v=>{
    tick(g,'potential-tick',417,sy(v),433.5,sy(v));
    label(g,'potential-tick-label',408,sy(v)+6,String(v),'end',16);
  });
  [-2.5,-1.5,-0.5,0.5,1.5,2.5].forEach(v=>{tick(g,'potential-minor-tick',417,sy(v),424,sy(v));});
  redoxLevels.forEach(v=>{
    node(g,'line','redox-level',{x1:433.5,y1:sy(v),x2:672.5,y2:sy(v),stroke:'#555','stroke-width':1,'stroke-dasharray':'4 3'});
  });
  const cols=[492.3,580.6],wid=70.8,colors=['#1a8f80','#a85a12'],heads=['arrowTeal','arrowBrown'];
  levelNames.forEach((n,i)=>{
    node(g,'rect','conduction-level',{x:cols[i],y:sy(levelCB[i])-2.5,width:wid,height:5,fill:colors[i]});
    node(g,'rect','valence-level',{x:cols[i],y:sy(levelVB[i])-2.5,width:wid,height:5,fill:colors[i]});
    node(g,'line','defect-level-dashed',{x1:cols[i],y1:sy(levelAO[i]),x2:cols[i]+wid,y2:sy(levelAO[i]),stroke:'#8a1fe8','stroke-width':1.8,'stroke-dasharray':'11 5'});
    const cx=cols[i]+wid/2;
    node(g,'line','bandgap-arrow',{x1:cx,y1:sy(levelVB[i])-3,x2:cx,y2:sy(levelCB[i])+3,stroke:colors[i],'stroke-width':1.6,'marker-end':'url(#'+heads[i]+')'});
    node(g,'path','bandgap-arrow-lower-head',{d:'M'+(cx-4.5)+' '+(sy(levelVB[i])-15)+'L'+cx+' '+(sy(levelVB[i])-3)+'L'+(cx+4.5)+' '+(sy(levelVB[i])-15)+'L'+cx+' '+(sy(levelVB[i])-11)+'Z',fill:colors[i]});
  });
})();

/* ---------- panel f ---------- */
(function(){
  const g=document.getElementById('panel-f');
  const sx=linear(400,700,67,349),sy=linear(0,100,1059.3,756);
  frame(g,'plot-frame-f',67,756,350,1059.3);
  xAxis(g,sx,1059.3,[400,500,600,700],[],1083,v=>String(v));
  curve(g,'pl-bnt',plBntW,plBntI,sx,sy,'#000',2.4);
  curve(g,'pl-bnt-vo',plRedW,plRedI,sx,sy,'#e81a1a',2.4);
})();

/* ---------- panel g ---------- */
(function(){
  const g=document.getElementById('panel-g');
  const sx=linear(20,100,454.3,692),sy=linear(0,100,1059.3,755.7);
  const clip=node(g,'g','decay-points',{'clip-path':'url(#clipG)'});
  photonLevels.forEach((lv,i)=>{
    for(let t=blackRowStart[i];t<blueRowStart[i]+1;t+=2){
      node(clip,'circle','bnt-photon-point',{cx:sx(t),cy:sy(lv),r:4.8,fill:'url(#ballGrey)'});
    }
  });
  balls(clip,'bnt-point',blackExtraT,blackExtraI,sx,sy,'ballGrey',4.8);
  photonLevels.forEach((lv,i)=>{
    for(let t=blueRowStart[i];t<=blueRowEnd[i];t+=1.6){
      node(clip,'circle','bnt-vo-photon-point',{cx:sx(t),cy:sy(lv),r:4.8,fill:'url(#ballBlue)'});
    }
  });
  balls(clip,'bnt-vo-fill-point',blueFillT,blueFillI,sx,sy,'ballBlue',5.2);
  balls(clip,'bnt-vo-point',blueBandT,blueBandI,sx,sy,'ballBlue',5.6);
  curve(g,'fit-bnt-decay',decayFitBntT,decayFitBntI,sx,sy,'#000',2.4,'clipG');
  curve(g,'fit-bnt-vo-decay',decayFitRedT,decayFitRedI,sx,sy,'#e0142a',2.4,'clipG');
  frame(g,'plot-frame-g',409,756,692,1059.3);
  xAxis(g,sx,1059.3,[20,40,60,80,100],[10,30,50,70,90],1083,v=>String(v));
  node(g,'circle','legend-ball-bnt',{cx:456,cy:776,r:5.2,fill:'url(#ballGrey)'});
  node(g,'circle','legend-ball-bnt-vo',{cx:456,cy:851,r:5.2,fill:'url(#ballBlue)'});
})();

/* ---------- panel h ---------- */
(function(){
  const g=document.getElementById('panel-h');
  const topY=v=>v<=0.42?902.7-v*70:(v<=2.43?862-(v-1.2)*25.5:804-(v-20)*2.45);
  const centers=[807.3,865,922.7,980.7,1038.7],bw=24;
  function bar(name,x,w,y,base,grad){node(g,'rect',name,{x:x,y:y,width:w,height:base-y,fill:'url(#'+grad+')'});}
  function errBar(name,cx,y1,y2){
    node(g,'path',name,{d:'M'+(cx-4)+' '+y1+'H'+(cx+4)+'M'+cx+' '+y1+'V'+y2+'M'+(cx-4)+' '+y2+'H'+(cx+4),stroke:'#000','stroke-width':1.8,fill:'none'});
  }
  surveyCategories.forEach((c,i)=>{
    bar('bar-co',centers[i]-bw,bw,topY(surveyCO[i]),902.7,'barCO');
    bar('bar-ch4',centers[i],bw,topY(surveyCH4[i]),902.7,'barCH4');
  });
  node(g,'rect','axis-break-band-upper',{x:778,y:829.3,width:290,height:1.6,fill:'#fff'});
  node(g,'rect','axis-break-band-lower',{x:778,y:872.5,width:290,height:1.6,fill:'#fff'});
  surveyCategories.forEach((c,i)=>{
    errBar('error-co',centers[i]-bw/2,topY(surveyCO[i]+surveyCOErr[i]),topY(surveyCO[i]-surveyCOErr[i]));
    if(surveyCH4Err[i]>0){errBar('error-ch4',centers[i]+bw/2,topY(surveyCH4[i]+surveyCH4Err[i]),topY(Math.max(surveyCH4[i]-surveyCH4Err[i],0)));}
  });
  node(g,'path','top-axes-left-right',{d:'M778 755V828M778 832V871M778 875V902.7H1068V875M1068 871V832M1068 828V755H778',fill:'none',stroke:'#3a3a3a','stroke-width':1.4});
  [[778,830],[778,873.3],[1068,830],[1068,873.3]].forEach(p=>{
    node(g,'path','axis-break-mark',{d:'M'+(p[0]-5)+' '+(p[1]+1)+'L'+(p[0]+5)+' '+(p[1]-5)+'M'+(p[0]-5)+' '+(p[1]+5)+'L'+(p[0]+5)+' '+(p[1]-1),stroke:'#111','stroke-width':1.6,fill:'none'});
  });
  [[40,'40'],[20,'20'],[1.8,'1.8'],[1.2,'1.2'],[0.3,'0.3'],[0,'0.0']].forEach(t=>{
    tick(g,'y-tick',778,topY(t[0]),784,topY(t[0]));
    label(g,'y-tick-label',768,topY(t[0])+6,t[1],'end');
  });
  [30,1.5,0.15].forEach(v=>{tick(g,'y-minor-tick',778,topY(v),781.5,topY(v));});
  [836,894,952,1010].forEach(x=>{tick(g,'x-tick',x,902.7,x,899);});
  const catPos=[[799.5,933],[863.5,936],[922.5,934],[977.5,934],[1045.5,939]];
  surveyCategories.forEach((c,i)=>{
    const t=node(g,'text','category-label',{transform:'translate('+catPos[i][0]+','+catPos[i][1]+') rotate(-30)','text-anchor':'middle','font-size':17.5});
    t.textContent=c;
    if(c==='BNT-V'){
      const s=node(t,'tspan','category-label-subscript',{'font-size':12.5,dy:4});
      s.textContent='O';
    }
  });

  const sy=linear(0,5,1059.3,956.7);
  const fieldCenters=[814,886.7,958.7,1031],fw=25.6;
  fieldCategories.forEach((c,i)=>{
    bar('field-bar-co',fieldCenters[i]-fw,fw,sy(fieldCO[i]),1059.3,'barCO');
    bar('field-bar-ch4',fieldCenters[i],fw,sy(fieldCH4[i]),1059.3,'barCH4');
    errBar('field-error-co',fieldCenters[i]-fw/2,sy(fieldCO[i]+fieldCOErr[i]),sy(fieldCO[i]-fieldCOErr[i]));
    errBar('field-error-ch4',fieldCenters[i]+fw/2,sy(fieldCH4[i]+fieldCH4Err[i]),sy(fieldCH4[i]-fieldCH4Err[i]));
    label(g,'field-tick-label',fieldCenters[i],1083,c,'middle');
  });
  frame(g,'plot-frame-h-lower',778,956.7,1068,1059.3);
  [0,1,2,3,4,5].forEach(v=>{
    tick(g,'y-tick',778,sy(v),784,sy(v));
    label(g,'y-tick-label',768,sy(v)+6,String(v),'end');
  });
  [0.5,1.5,2.5,3.5,4.5].forEach(v=>{tick(g,'y-minor-tick',778,sy(v),781.5,sy(v));});
  [850,922.7,995].forEach(x=>{tick(g,'x-tick',x,1059.3,x,1055.5);});
})();
</script>
</body>
</html>
